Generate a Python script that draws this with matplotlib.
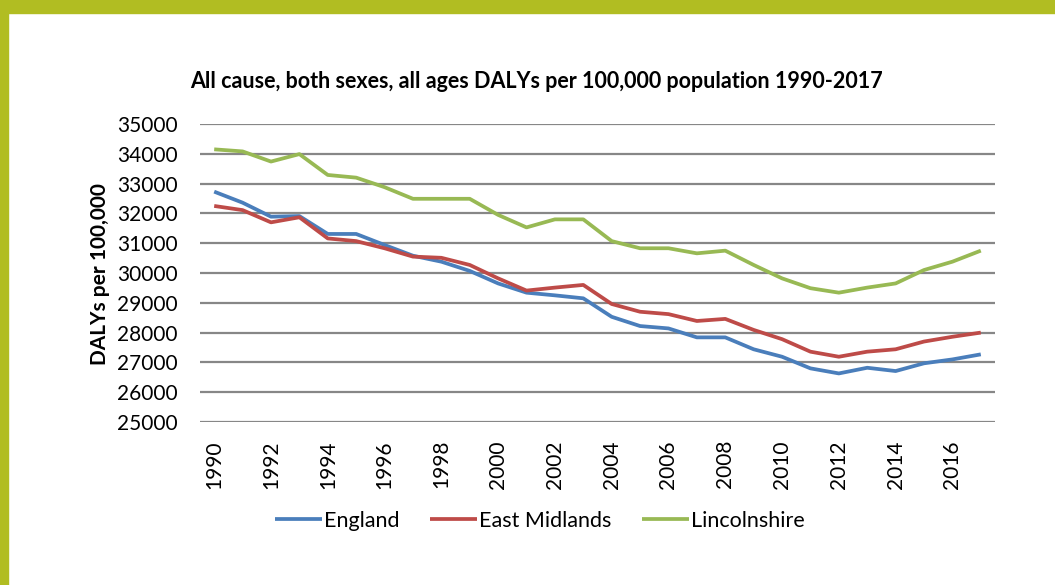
import matplotlib
matplotlib.use("Agg")
import matplotlib.pyplot as plt
from matplotlib.patches import Rectangle

plt.rcParams["font.family"] = ["Lato", "DejaVu Sans"]

years = list(range(1990, 2018))
england = [32730, 32360, 31890, 31910, 31310, 31310, 30940, 30580, 30380, 30070,
           29650, 29340, 29250, 29150, 28530, 28220, 28140, 27840, 27840, 27440,
           27190, 26800, 26630, 26820, 26710, 26970, 27100, 27270]
east_midlands = [32250, 32110, 31700, 31870, 31160, 31070, 30830, 30550, 30510, 30270,
                 29820, 29410, 29510, 29600, 28960, 28700, 28620, 28390, 28460, 28090,
                 27780, 27360, 27190, 27360, 27440, 27700, 27860, 28000]
lincolnshire = [34150, 34080, 33740, 33990, 33290, 33200, 32880, 32490, 32490, 32490,
                31950, 31530, 31800, 31800, 31070, 30830, 30830, 30660, 30750, 30270,
                29820, 29490, 29340, 29510, 29650, 30100, 30380, 30750]
series_names = ["England", "East Midlands", "Lincolnshire"]
colors = ["#4A7EBB", "#BE4B48", "#98B954"]

W, H = 1055, 585
fig = plt.figure(figsize=(W / 100, H / 100), dpi=100)
fig.patch.set_facecolor("white")

# olive frame on the top and left edges
border = "#B1BD22"
fig.patches.append(Rectangle((0, 1 - 13 / H), 1, 13 / H, transform=fig.transFigure,
                             color=border, zorder=0))
fig.patches.append(Rectangle((0, 0), 8 / W, 1, transform=fig.transFigure,
                             color=border, zorder=0))

ax = fig.add_axes([200 / W, (H - 422) / H, 795 / W, 298 / H])
x = list(range(len(years)))
for vals, name, c in zip([england, east_midlands, lincolnshire], series_names, colors):
    ax.plot(x, vals, color=c, lw=2.7, label=name, solid_capstyle="butt", zorder=3)

ax.set_xlim(-0.5, len(years) - 0.5)
ax.set_ylim(25000, 35000)
ax.set_yticks(range(25000, 35001, 1000))
ax.yaxis.grid(True, color="#878787", lw=1.6)
ax.set_axisbelow(True)
for s in ax.spines.values():
    s.set_visible(False)
ax.set_xticks(x[::2])
ax.set_xticklabels([str(y) for y in years[::2]], rotation=90, fontsize=15)
ax.tick_params(axis="y", length=0, pad=16, labelsize=15)
ax.tick_params(axis="x", length=0, pad=13)

fig.text(100 / W, 1 - 274 / H, "DALYs per 100,000", rotation=90, ha="center", va="center",
         fontsize=15, fontweight="bold")
fig.text(537 / W, 1 - 82 / H, "All cause, both sexes, all ages DALYs per 100,000 population 1990-2017",
         ha="center", va="center", fontsize=15.5, fontweight="bold")

fig.legend(loc="center", bbox_to_anchor=(540 / W, 1 - 521 / H), ncol=3, frameon=False,
           fontsize=15.5, handlelength=2.2, handletextpad=0.1, columnspacing=1.4)

fig.savefig("out.png", dpi=100, facecolor="white")
